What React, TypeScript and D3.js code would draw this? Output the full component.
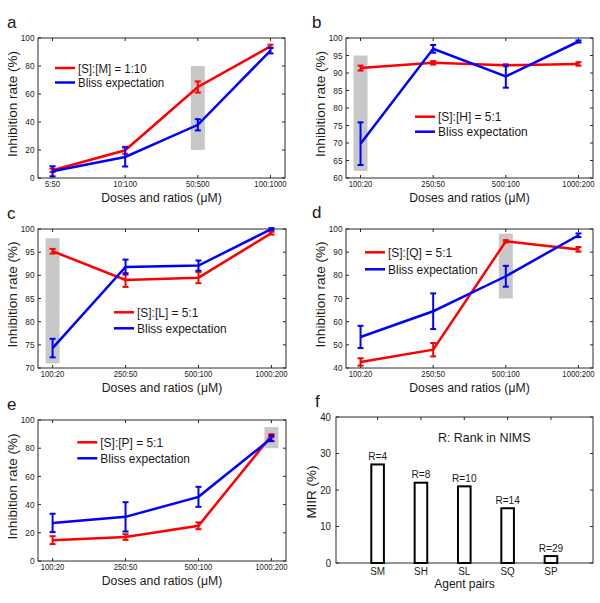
import React from 'react';
import * as d3 from 'd3';

// ---------- data ----------
const doseLabelsA = ['5:50', '10:100', '50:500', '100:1000'];
const doseLabels = ['100:20', '250:50', '500:100', '1000:200'];

const redA = [5.5, 19.8, 65, 94];
const redAErr = [1.2, 2.5, 4, 1.2];
const blueA = [4.8, 15, 38, 91];
const blueAErr = [3.6, 6.8, 4, 2];

const redB = [91.4, 92.9, 92.2, 92.6];
const redBErr = [0.7, 0.5, 0.3, 0.5];
const blueB = [69.8, 96.9, 89, 99];
const blueBErr = [6.1, 1.1, 3.2, 0.3];

const redC = [95.2, 89.0, 89.5, 99.1];
const redCErr = [0.5, 1.5, 1.2, 0.3];
const blueC = [74.3, 91.8, 92.1, 100];
const blueCErr = [2, 1.6, 1.1, 0.2];

const redD = [42.6, 47.9, 94.7, 91.2];
const redDErr = [1.6, 2.9, 0.5, 1];
const blueD = [53.4, 64.5, 79.6, 97.3];
const blueDErr = [4.8, 7.7, 4.5, 0.8];

const redE = [14.8, 17.0, 25.0, 88.9];
const redEErr = [2.8, 2, 2.4, 1];
const blueE = [27, 31.3, 45.5, 87];
const blueEErr = [6.5, 10.4, 7.1, 2];

const ticks0to100 = [0, 20, 40, 60, 80, 100];
const ticks60to100 = [60, 65, 70, 75, 80, 85, 90, 95, 100];
const ticks70to100 = [70, 75, 80, 85, 90, 95, 100];
const ticks40to100 = [40, 50, 60, 70, 80, 90, 100];

const legendA = '[S]:[M] = 1:10';
const legendB = '[S]:[H] = 5:1';
const legendC = '[S]:[L] = 5:1';
const legendD = '[S]:[Q] = 5:1';
const legendE = '[S]:[P] = 5:1';
const blissLabel = 'Bliss expectation';

// highlighted (index, low, high)
const hlA = [2, 20, 80];
const hlB = [0, 62, 95];
const hlC = [0, 71, 98];
const hlD = [2, 70, 98];
const hlE = [3, 80, 95];

const pairs = ['SM', 'SH', 'SL', 'SQ', 'SP'];
const miir = [27, 22, 21, 15, 1.9];
const ranks = ['R=4', 'R=8', 'R=10', 'R=14', 'R=29'];
const ticksF = [0, 10, 20, 30, 40];

// ---------- helpers ----------
const FONT = 'Liberation Sans, Arial, Helvetica, sans-serif';
const TXT = '#1a1a1a';
const AX = '#2a2a2a';

function T(props: any) {
  const { x, y, size, anchor = 'start', children, dy, rotate, sx = 0.92 } = props;
  const tr = rotate
    ? `translate(${x},${y}) rotate(-90) scale(1,${sx})`
    : `translate(${x},${y}) scale(${sx},1)`;
  return (
    <text transform={tr} fontFamily={FONT} fontSize={size} textAnchor={anchor} dy={dy} fill={TXT}>
      {children}
    </text>
  );
}

function LinePanel(p: any) {
  const { x0, x1, y0, y1, yDomain, yTicks, xLabels, red, redErr, blue, blueErr, hl, legend, legendLabel, legendSize = 13, letter } = p;
  const x = d3.scaleLinear().domain([0.8, 4.2]).range([x0, x1]);
  const y = d3.scaleLinear().domain(yDomain).range([y1, y0]);
  const idx = xLabels.map((_: string, i: number) => i + 1);
  const line = d3.line<number>().x((_, i) => x(i + 1)).y((d) => y(d));
  const cap = 3;
  const errs = (vals: number[], e: number[], color: string) =>
    vals.map((v, i) => {
      const cx = x(i + 1);
      const top = y(v + e[i]);
      const bot = y(v - e[i]);
      return (
        <g key={color + i} stroke={color} strokeWidth={2}>
          <line x1={cx} x2={cx} y1={top} y2={bot} />
          <line x1={cx - cap} x2={cx + cap} y1={top} y2={top} />
          <line x1={cx - cap} x2={cx + cap} y1={bot} y2={bot} />
        </g>
      );
    });
  const hx = x(hl[0] + 1);
  return (
    <g>
      <rect x={hx - 7} width={14} y={y(hl[2])} height={y(hl[1]) - y(hl[2])} fill="#c8c8c8" />
      <rect x={x0} y={y0} width={x1 - x0} height={y1 - y0} fill="none" stroke={AX} strokeWidth={1} />
      {yTicks.map((t: number) => (
        <g key={'yt' + t}>
          <line x1={x0} x2={x0 + 3} y1={y(t)} y2={y(t)} stroke={AX} />
          <line x1={x1} x2={x1 - 3} y1={y(t)} y2={y(t)} stroke={AX} />
          <T x={x0 - 3.5} y={y(t)} size={9} anchor="end" dy="0.35em">{t}</T>
        </g>
      ))}
      {idx.map((i: number) => (
        <g key={'xt' + i}>
          <line x1={x(i)} x2={x(i)} y1={y1} y2={y1 - 3} stroke={AX} />
          <line x1={x(i)} x2={x(i)} y1={y0} y2={y0 + 3} stroke={AX} />
          <T x={x(i)} y={y1 + 8.5} size={8.4} anchor="middle">{xLabels[i - 1]}</T>
        </g>
      ))}
      <T x={(x0 + x1) / 2} y={y1 + 23.5} size={13.3} anchor="middle">Doses and ratios (μM)</T>
      <T x={x0 - 21} y={(y0 + y1) / 2 - 4} size={13.5} anchor="middle" rotate>Inhibition rate (%)</T>
      <path d={line(red) || ''} fill="none" stroke="#ff0000" strokeWidth={2.5} />
      {errs(red, redErr, '#ff0000')}
      <path d={line(blue) || ''} fill="none" stroke="#0000ff" strokeWidth={2.5} />
      {errs(blue, blueErr, '#0000ff')}
      <line x1={legend[0]} x2={legend[0] + 20} y1={legend[1]} y2={legend[1]} stroke="#ff0000" strokeWidth={2.5} />
      <line x1={legend[0]} x2={legend[0] + 20} y1={legend[2]} y2={legend[2]} stroke="#0000ff" strokeWidth={2.5} />
      <T x={legend[0] + 23} y={legend[1]} size={legendSize} dy="0.36em">{legendLabel}</T>
      <T x={legend[0] + 23} y={legend[2]} size={legendSize} dy="0.36em">{blissLabel}</T>
      <T x={letter[0]} y={letter[1]} size={17} sx={1}>{letter[2]}</T>
    </g>
  );
}

function BarPanel() {
  const x0 = 336, x1 = 593, y0 = 417, y1 = 563;
  const x = d3.scaleLinear().domain([0.04, 5.97]).range([x0, x1]);
  const y = d3.scaleLinear().domain([0, 40]).range([y1, y0]);
  const bw = 12.6;
  return (
    <g>
      <rect x={x0} y={y0} width={x1 - x0} height={y1 - y0} fill="none" stroke={AX} strokeWidth={1} />
      {ticksF.map((t) => (
        <g key={'fy' + t}>
          <line x1={x0} x2={x0 + 3} y1={y(t)} y2={y(t)} stroke={AX} />
          <line x1={x1} x2={x1 - 3} y1={y(t)} y2={y(t)} stroke={AX} />
          <T x={x0 - 5} y={y(t)} size={10.5} anchor="end" dy="0.35em">{t}</T>
        </g>
      ))}
      {pairs.map((p, i) => (
        <g key={p}>
          <line x1={x(i + 1)} x2={x(i + 1)} y1={y1} y2={y1 - 3} stroke={AX} />
          <line x1={x(i + 1)} x2={x(i + 1)} y1={y0} y2={y0 + 3} stroke={AX} />
          <T x={x(i + 1)} y={y1 + 11.5} size={10.8} anchor="middle">{p}</T>
          <rect x={x(i + 1) - bw / 2} width={bw} y={y(miir[i])} height={y(0) - y(miir[i])} fill="#fff" stroke="#000" strokeWidth={2} />
          <T x={x(i + 1)} y={y(miir[i]) - 4.5} size={11} anchor="middle">{ranks[i]}</T>
        </g>
      ))}
      <T x={438} y={442} size={13.5}>R: Rank in NIMS</T>
      <T x={(x0 + x1) / 2} y={y1 + 25} size={13} anchor="middle">Agent pairs</T>
      <T x={x0 - 20} y={(y0 + y1) / 2 + 2} size={13.5} anchor="middle" rotate>MIIR (%)</T>
      <T x={315} y={407} size={17} sx={1}>f</T>
    </g>
  );
}

export default function App() {
  return (
    <svg width={600} height={603} style={{ position: 'absolute', left: 0, top: 0, background: '#fff' }}>
      <rect x={0} y={0} width={600} height={603} fill="#fff" />
      <LinePanel x0={38} x1={285} y0={38} y1={178} yDomain={[0, 100]} yTicks={ticks0to100} xLabels={doseLabelsA}
        red={redA} redErr={redAErr} blue={blueA} blueErr={blueAErr} hl={hlA}
        legend={[55, 68, 82.5]} legendSize={12.5} legendLabel={legendA} letter={[7, 28, 'a']} />
      <LinePanel x0={346} x1={593} y0={38} y1={178} yDomain={[60, 100]} yTicks={ticks60to100} xLabels={doseLabels}
        red={redB} redErr={redBErr} blue={blueB} blueErr={blueBErr} hl={hlB}
        legend={[415, 116.7, 131.7]} legendLabel={legendB} letter={[312, 28, 'b']} />
      <LinePanel x0={38} x1={286} y0={229} y1={368} yDomain={[70, 100]} yTicks={ticks70to100} xLabels={doseLabels}
        red={redC} redErr={redCErr} blue={blueC} blueErr={blueCErr} hl={hlC}
        legend={[114, 312.3, 328.3]} legendLabel={legendC} letter={[7, 219, 'c']} />
      <LinePanel x0={346} x1={593} y0={229} y1={368} yDomain={[40, 100]} yTicks={ticks40to100} xLabels={doseLabels}
        red={redD} redErr={redDErr} blue={blueD} blueErr={blueDErr} hl={hlD}
        legend={[365, 252.3, 269.3]} legendLabel={legendD} letter={[312, 218, 'd']} />
      <LinePanel x0={38} x1={286} y0={420} y1={561} yDomain={[0, 100]} yTicks={ticks0to100} xLabels={doseLabels}
        red={redE} redErr={redEErr} blue={blueE} blueErr={blueEErr} hl={hlE}
        legend={[77.3, 442.3, 458.3]} legendLabel={legendE} letter={[7, 410, 'e']} />
      <BarPanel />
    </svg>
  );
}
